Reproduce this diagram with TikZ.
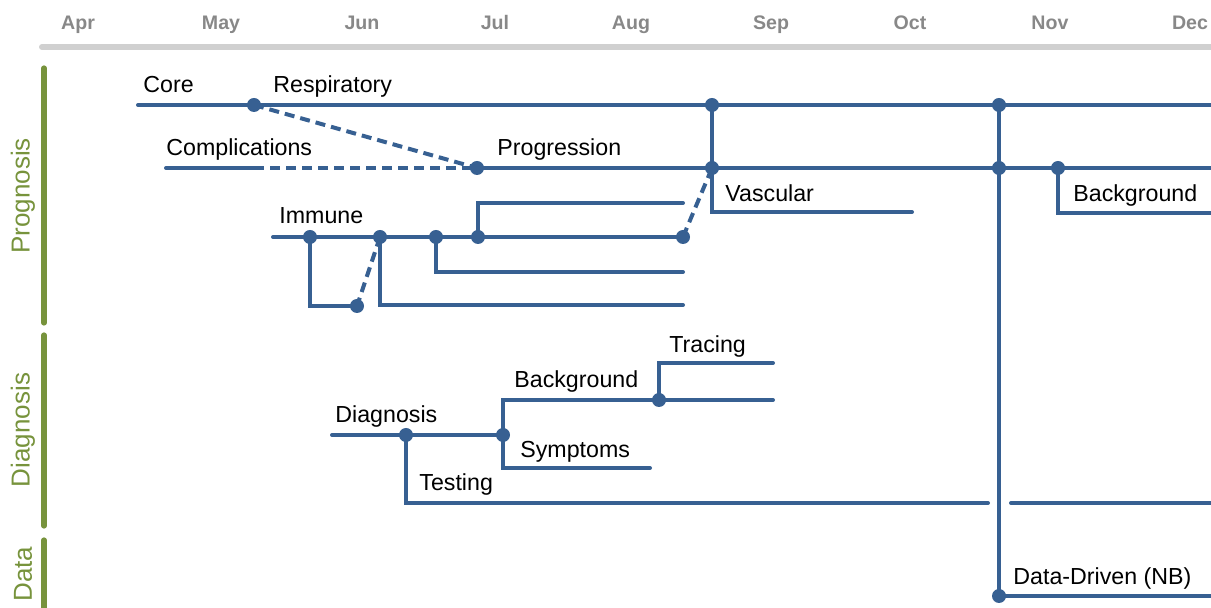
\documentclass[tikz,border=0pt]{standalone}
\usepackage{fontspec}
\setmainfont{Liberation Sans}
\definecolor{trackblue}{RGB}{55,96,146}
\definecolor{themegreen}{RGB}{119,147,60}
\definecolor{monthgray}{RGB}{136,136,136}
\definecolor{railgray}{RGB}{208,208,208}
\tikzset{
  track/.style={draw=trackblue, line width=2pt, line cap=round},
  link/.style={draw=trackblue, line width=2pt, dash pattern=on 5pt off 3pt},
  knot/.style={circle, fill=trackblue, inner sep=0pt, minimum size=7pt},
  lbl/.style={anchor=base west, inner sep=0pt, font=\fontsize{11.6}{13}\selectfont},
  month/.style={text=monthgray, anchor=base, inner sep=0pt, font=\bfseries\fontsize{9.8}{11}\selectfont},
  themebar/.style={draw=themegreen, line width=2.6pt, line cap=round},
  theme/.style={text=themegreen, rotate=90, inner sep=0pt, font=\fontsize{13}{15}\selectfont}
}
\begin{document}
\begin{tikzpicture}[x=0.5pt,y=-0.5pt]
\useasboundingbox (0,0) rectangle (1211,608);

\foreach \m/\x in {Apr/78,May/221,Jun/362,Jul/495,Aug/631,Sep/771,Oct/910,Nov/1050,Dec/1190}
  \node[month] (month-\m) at (\x,30) {\m};
\draw[railgray, line width=3pt, line cap=round] (42,47) -- (1220,47);

\draw[themebar] (44,68) -- (44,323);
\draw[themebar] (44,335) -- (44,526);
\draw[themebar] (44,540) -- (44,620);
\node[theme] (th-prognosis) at (23,196) {Prognosis};
\node[theme] (th-diagnosis) at (23,430) {Diagnosis};
\node[theme] (th-data) at (23,574) {Data};

\coordinate (respiratory) at (254,105);
\coordinate (progression) at (477,168);
\coordinate (sep-a) at (712,105);
\coordinate (sep-b) at (712,168);
\coordinate (nov-a) at (999,105);
\coordinate (nov-b) at (999,168);
\coordinate (bg-prog) at (1058,168);
\coordinate (imm-a) at (310,237);
\coordinate (imm-b) at (380,237);
\coordinate (imm-c) at (436,237);
\coordinate (imm-d) at (478,237);
\coordinate (imm-end) at (683,237);
\coordinate (imm-low) at (357,306);
\coordinate (diag) at (406,435);
\coordinate (diag-split) at (503,435);
\coordinate (tracing) at (659,400);
\coordinate (data-driven) at (999,596);

\draw[track] (138,105) -- (1220,105);
\draw[track] (166,168) -- (254,168);
\draw[link] (254,168) -- (progression);
\draw[link] (respiratory) -- (progression);
\draw[track] (progression) -- (1220,168);
\draw[track] (sep-a) |- (912,212);
\draw[track] (nov-a) |- (1220,596);
\draw[track] (bg-prog) |- (1220,213);

\draw[track] (273,237) -- (imm-end);
\draw[track] (imm-a) |- (imm-low);
\draw[link] (imm-b) -- (imm-low);
\draw[track] (imm-b) |- (683,305);
\draw[track] (imm-c) |- (683,272);
\draw[track] (imm-d) |- (683,203);
\draw[link] (imm-end) -- (sep-b);

\draw[track] (332,435) -- (diag-split);
\draw[track] (diag) |- (988,503);
\draw[track] (1011,503) -- (1220,503);
\draw[track] (diag-split) |- (773,400);
\draw[track] (diag-split) |- (650,468);
\draw[track] (tracing) |- (773,363);

\foreach \k in {respiratory,progression,sep-a,sep-b,nov-a,nov-b,bg-prog,imm-a,imm-b,imm-c,imm-d,imm-end,imm-low,diag,diag-split,tracing,data-driven}
  \node[knot] (k-\k) at (\k) {};

\node[lbl] (l-core) at (143,93) {Core};
\node[lbl] (l-respiratory) at (273,93) {Respiratory};
\node[lbl] (l-complications) at (166,156) {Complications};
\node[lbl] (l-progression) at (497,156) {Progression};
\node[lbl] (l-vascular) at (725,202) {Vascular};
\node[lbl] (l-bg-prog) at (1073,202) {Background};
\node[lbl] (l-immune) at (279,224) {Immune};
\node[lbl] (l-diagnosis) at (335,423) {Diagnosis};
\node[lbl] (l-bg-diag) at (514,388) {Background};
\node[lbl] (l-tracing) at (669,353) {Tracing};
\node[lbl] (l-symptoms) at (520,458) {Symptoms};
\node[lbl] (l-testing) at (419,491) {Testing};
\node[lbl] (l-data-driven) at (1013,585) {Data-Driven (NB)};
\end{tikzpicture}
\end{document}
